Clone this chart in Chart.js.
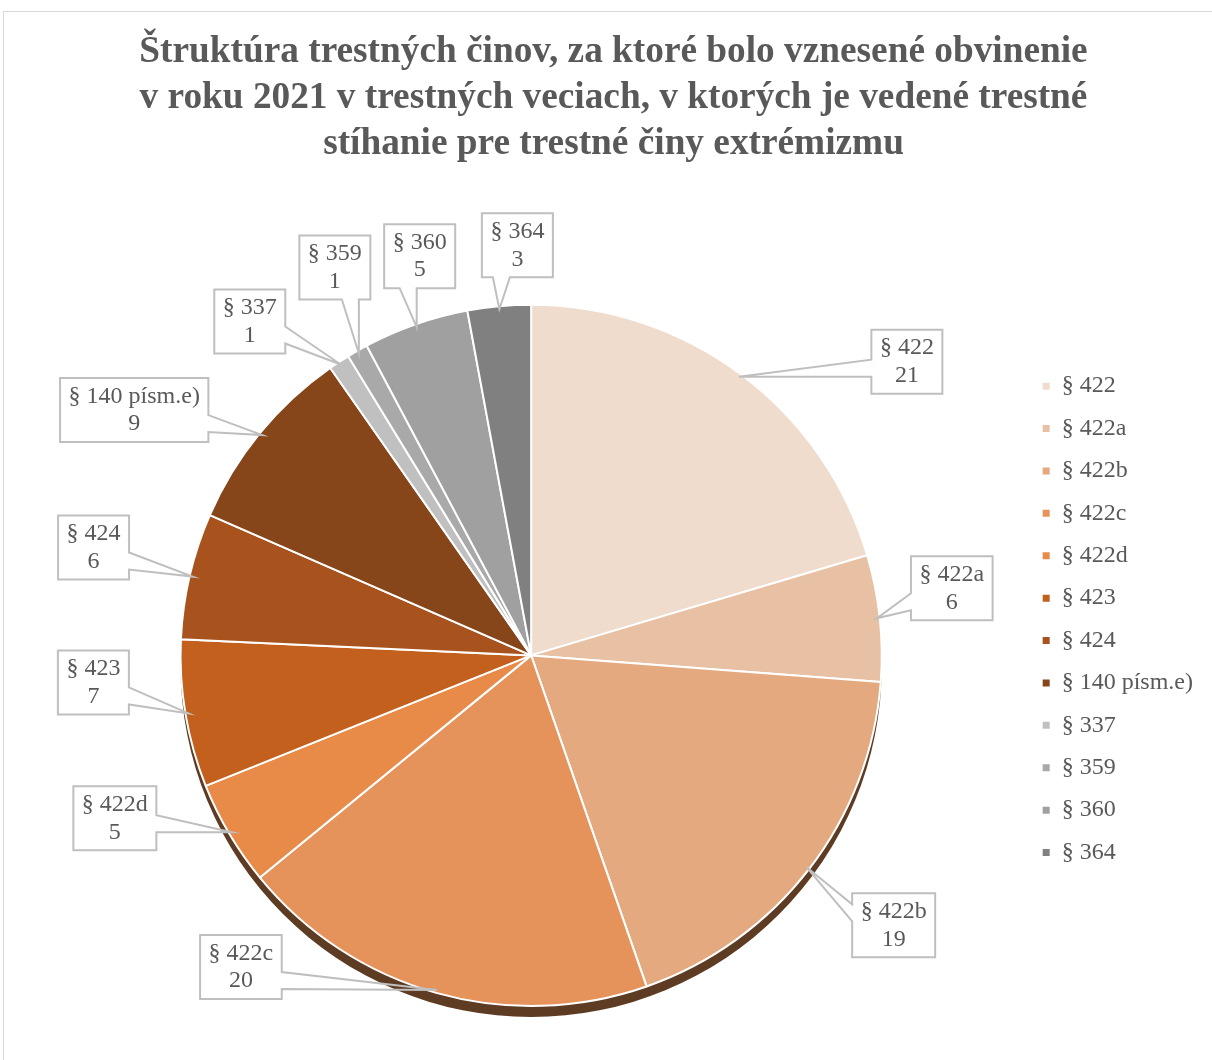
<!DOCTYPE html>
<html>
<head>
<meta charset="utf-8">
<script src="https://cdn.jsdelivr.net/npm/chart.js@4.4.1/dist/chart.umd.min.js"></script>
<style>
  html, body { margin: 0; background: #fff; overflow: hidden; }
  #marco { position: absolute; left: 3px; top: 11px; width: 1300px; height: 1200px; border: 1px solid #d9d9d9; }
  #grafica { position: absolute; left: 0; top: 0; }
</style>
</head>
<body>
<div id="marco"></div>
<canvas id="grafica" width="1212" height="1060"></canvas>
<script>
const tituloLineas = [
  "Štruktúra trestných činov, za ktoré bolo vznesené obvinenie",
  "v roku 2021 v trestných veciach, v ktorých je vedené trestné",
  "stíhanie pre trestné činy extrémizmu"
];
const categorias = ["§ 422", "§ 422a", "§ 422b", "§ 422c", "§ 422d", "§ 423", "§ 424", "§ 140 písm.e)", "§ 337", "§ 359", "§ 360", "§ 364"];
const valores = [21, 6, 19, 20, 5, 7, 6, 9, 1, 1, 5, 3];
const colores = ["#efdccd", "#e8c0a3", "#e4a97f", "#e6935b", "#e88a48", "#c3601e", "#a8531e", "#87461a", "#c0c0c0", "#a9a9a9", "#a0a0a0", "#808080"];

// donde va cada cajita respecto al punto del borde del sector (dx, dy)
const desplazamientos = [[168, -15], [75, -30], [87, 58], [-196, -23], [-117, -14], [-95, -31], [-99, -29], [-128, -25], [-91, -43], [-24, -86], [3, -71], [18, -64]];

const colorTexto = "#595959";
const fuente = '"Liberation Serif", "Times New Roman", serif';

// el titulo va un poco a la izquierda del centro, como en el original
const moverTitulo = {
  id: "moverTitulo",
  afterLayout(chart) {
    const t = chart.titleBlock;
    if (!t) return;
    t.left -= 7;
    t.right -= 7;
  }
};

// sombra oscura debajo del pastel (efecto 3D de Excel)
const sombra = {
  id: "sombra",
  beforeDatasetsDraw(chart) {
    const arc = chart.getDatasetMeta(0).data[0];
    if (!arc) return;
    const ctx = chart.ctx;
    ctx.save();
    ctx.fillStyle = "#5e3c24";
    ctx.beginPath();
    ctx.arc(arc.x, arc.y + 11, arc.outerRadius, 0, Math.PI * 2);
    ctx.fill();
    ctx.restore();
  }
};

// etiquetas con cajita y flecha
const etiquetas = {
  id: "etiquetas",
  afterDatasetsDraw(chart) {
    const ctx = chart.ctx;
    const meta = chart.getDatasetMeta(0);
    ctx.save();
    ctx.font = "24px " + fuente;
    meta.data.forEach((arc, i) => {
      const medio = (arc.startAngle + arc.endAngle) / 2;
      const r = arc.outerRadius - 3;
      const ax = arc.x + Math.cos(medio) * r;
      const ay = arc.y + Math.sin(medio) * r;
      const linea1 = categorias[i];
      const linea2 = String(valores[i]);
      const ancho = Math.max(ctx.measureText(linea1).width, ctx.measureText(linea2).width) + 17;
      const alto = 64;
      const cx = ax + desplazamientos[i][0];
      const cy = ay + desplazamientos[i][1];
      const x0 = cx - ancho / 2, x1 = cx + ancho / 2, y0 = cy - alto / 2, y1 = cy + alto / 2;

      // en que lado de la caja sale la flecha
      const dx = (ax - cx) / ancho, dy = (ay - cy) / alto;
      let lado;
      if (Math.abs(dx) > Math.abs(dy)) lado = dx < 0 ? "izq" : "der";
      else lado = dy < 0 ? "arriba" : "abajo";
      const limitar = (v, a, b) => Math.min(Math.max(v, a), b);
      let fin;
      if (lado == "izq" || lado == "der") fin = limitar(ay, y0 + 28, y1 - 10);
      else fin = limitar(ax, x0 + 28, x1 - 10);
      const b1 = fin - 17, b2 = fin;

      ctx.fillStyle = "#ffffff";
      ctx.fillRect(x0, y0, ancho, alto);

      ctx.beginPath();
      ctx.moveTo(x0, y0);
      if (lado == "arriba") { ctx.lineTo(b1, y0); ctx.lineTo(ax, ay); ctx.lineTo(b2, y0); }
      ctx.lineTo(x1, y0);
      if (lado == "der") { ctx.lineTo(x1, b1); ctx.lineTo(ax, ay); ctx.lineTo(x1, b2); }
      ctx.lineTo(x1, y1);
      if (lado == "abajo") { ctx.lineTo(b2, y1); ctx.lineTo(ax, ay); ctx.lineTo(b1, y1); }
      ctx.lineTo(x0, y1);
      if (lado == "izq") { ctx.lineTo(x0, b2); ctx.lineTo(ax, ay); ctx.lineTo(x0, b1); }
      ctx.closePath();
      ctx.strokeStyle = "#bfbfbf";
      ctx.lineWidth = 2;
      ctx.stroke();

      ctx.fillStyle = colorTexto;
      ctx.textAlign = "center";
      ctx.textBaseline = "middle";
      ctx.fillText(linea1, cx, cy - 13.5);
      ctx.fillText(linea2, cx, cy + 14);
    });
    ctx.restore();
  }
};

const canvas = document.getElementById("grafica").getContext("2d");

new Chart(canvas, {
  type: "pie",
  data: {
    labels: categorias,
    datasets: [
      {
        data: valores,
        backgroundColor: colores,
        borderColor: "#ffffff",
        borderWidth: 2,
        hoverOffset: 0
      }
    ]
  },
  options: {
    responsive: false,
    animation: false,
    layout: { padding: { left: 38, right: 9, top: 0, bottom: 53 } },
    plugins: {
      tooltip: { enabled: false },
      title: {
        display: true,
        text: tituloLineas,
        color: colorTexto,
        font: { family: fuente, size: 37.3, weight: "bold", lineHeight: 1.24 },
        padding: { top: 29, bottom: 136 }
      },
      legend: {
        position: "right",
        align: "start",
        fullSize: false,
        title: { display: true, text: " ", font: { size: 10 }, padding: 20 },
        labels: {
          usePointStyle: true,
          pointStyle: "rect",
          boxWidth: 7,
          boxHeight: 7,
          padding: 18.4,
          color: colorTexto,
          font: { family: fuente, size: 24 },
          generateLabels(chart) {
            const items = Chart.overrides.pie.plugins.legend.labels.generateLabels(chart);
            items.forEach((it) => {
              it.lineWidth = 0;
              it.strokeStyle = it.fillStyle;
            });
            return items;
          }
        }
      }
    }
  },
  plugins: [moverTitulo, sombra, etiquetas]
});
</script>
</body>
</html>
